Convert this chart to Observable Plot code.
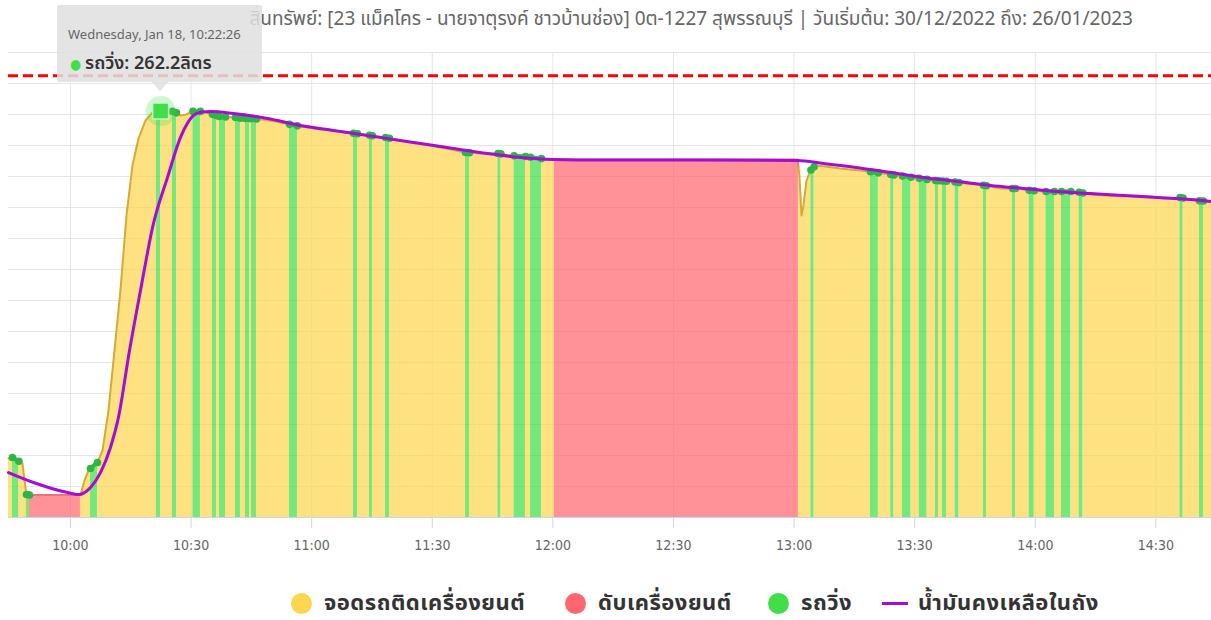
<!DOCTYPE html>
<html><head><meta charset="utf-8">
<script src="https://cdn.jsdelivr.net/npm/d3@7"></script>
<script src="https://cdn.jsdelivr.net/npm/@observablehq/plot@0.6"></script>
<style>
body{margin:0;background:#fff;}
#wrap{position:relative;width:1211px;height:620px;overflow:hidden;font-family:"Noto Sans Thai","Liberation Sans Narrow","DejaVu Sans Condensed","Noto Sans",sans-serif;}
#chart{position:absolute;left:0;top:0;}
.title{position:absolute;right:78px;top:5px;font-size:19px;color:#666;white-space:nowrap;}
.tip{position:absolute;left:57px;top:5px;width:205px;height:77px;background:rgba(224,224,224,0.86);border-radius:2px;}
.tip:after{content:"";position:absolute;left:95px;top:77px;border-left:8px solid transparent;border-right:8px solid transparent;border-top:9px solid rgba(224,224,224,0.86);}
.tip .d{position:absolute;left:11px;top:20px;font-size:13px;color:#666;white-space:nowrap;}
.tip .v{position:absolute;left:13px;top:45px;font-size:18px;font-weight:600;color:#333;white-space:nowrap;}
.tip .v span{color:#40DF48;font-size:14px;margin-right:4px;}
.lg{position:absolute;top:590px;height:26px;display:flex;align-items:center;font-size:22px;letter-spacing:0.5px;font-weight:bold;color:#333;white-space:nowrap;}
.lg i{display:inline-block;width:21px;height:21px;border-radius:50%;margin-right:12px;}
.lg b{display:inline-block;width:26px;height:3px;margin-right:10px;}
</style></head><body><div id="wrap"><div id="chart"></div></div>
<script>
const day = "2023-01-18";
const xStart = "09:44:35", xEnd = "14:43:50";
const tickLabels = ["10:00","10:30","11:00","11:30","12:00","12:30","13:00","13:30","14:00","14:30"];
const gridLiters = [0,20,40,60,80,100,120,140,160,180,200,220,240,260,280,300];
const tankLimit = 285;

// raw fuel reading (litres)
const rawTimes = ["09:44:35","09:45:34","09:47:19","09:48:04","09:48:34","09:49:03","09:49:48","10:02:29","10:03:29","10:04:29","10:05:43","10:06:43","10:07:58","10:09:27","10:10:57","10:12:26","10:13:56","10:15:25","10:16:55","10:18:39","10:20:24","10:22:26","10:24:23","10:25:52","10:27:22","10:28:51","10:30:21","10:32:20","10:34:50","10:37:19","10:40:18","10:42:17","10:44:47","10:47:16","10:51:00","10:54:44","10:57:13","11:02:11","11:07:10","11:10:54","11:14:38","11:18:22","11:22:05","11:27:04","11:32:02","11:35:46","11:38:16","11:41:59","11:46:28","11:49:57","11:53:11","11:56:55","12:00:09","13:00:51","13:01:20","13:01:50","13:02:20","13:03:05","13:04:05","13:05:19","13:07:49","13:11:32","13:16:31","13:20:15","13:23:59","13:27:43","13:31:26","13:35:10","13:38:55","13:42:38","13:47:37","13:51:20","13:55:04","13:58:49","14:02:32","14:06:16","14:10:00","14:13:44","14:17:28","14:21:11","14:24:56","14:28:40","14:32:23","14:36:07","14:39:51","14:43:50"];
const rawLiters = [38.1,38.7,36.1,34.8,23.9,14.8,14.5,14.5,23.9,30.3,33.5,35.5,43.2,69.0,107.7,146.5,194.8,227.1,244.5,256.1,261.3,262.2,262.6,261.9,259.4,260.0,262.0,262.0,260.5,258.5,258.3,257.6,257.4,257.0,255.5,253.5,252.3,250.3,249.0,247.7,246.5,245.2,243.2,241.3,238.7,236.8,235.5,234.8,234.8,233.5,232.9,231.6,231.0,231.0,220.6,194.8,201.3,217.4,223.9,227.1,226.5,225.2,223.9,222.6,221.3,220.0,218.7,217.4,216.8,215.5,214.2,212.3,212.3,211.0,210.3,210.3,210.3,208.4,207.7,207.1,207.7,207.1,205.8,206.5,204.5,203.9];

// smoothed remaining fuel (purple)
const trendTimes = ["09:44:35","09:50:48","09:59:15","10:01:59","10:04:59","10:07:28","10:09:57","10:11:56","10:14:41","10:17:25","10:20:39","10:24:08","10:27:22","10:30:36","10:32:20","10:34:50","10:40:33","10:49:00","10:57:13","11:05:25","11:13:53","11:22:05","11:27:04","11:35:16","11:43:44","11:51:56","12:00:09","12:11:50","12:36:43","13:00:51","13:07:19","13:11:32","13:23:59","13:32:11","13:40:39","13:48:52","13:57:04","14:05:31","14:13:44","14:21:56","14:30:24","14:38:37","14:43:50"];
const trendLiters = [29.0,22.6,16.1,14.8,19.4,29.0,45.2,64.5,107.7,146.5,189.7,219.4,245.2,259.4,261.5,261.9,260.6,257.4,252.9,249.7,246.5,243.2,241.3,238.1,234.8,232.3,231.0,230.6,230.6,230.3,228.4,227.1,222.6,219.4,216.8,214.2,212.3,210.3,209.0,207.7,206.5,205.2,203.9];

// driving periods (green)
const driveStarts = ["09:45:34","09:49:03","10:04:59","10:21:23","10:25:22","10:30:28","10:35:19","10:37:04","10:41:03","10:43:32","10:45:01","10:54:29","11:10:24","11:14:23","11:18:22","11:38:16","11:46:20","11:50:21","11:54:26","13:04:11","13:19:00","13:24:03","13:26:58","13:31:08","13:35:10","13:36:55","13:40:03","13:47:07","13:54:20","13:58:29","14:02:40","14:06:31","14:10:54","14:36:00","14:40:51"];
const driveEnds = ["09:47:10","09:49:48","10:06:43","10:22:26","10:26:22","10:32:20","10:36:19","10:38:34","10:42:17","10:44:32","10:46:16","10:56:28","11:11:24","11:15:07","11:19:21","11:39:15","11:47:05","11:53:11","11:57:10","13:04:59","13:20:58","13:24:51","13:29:06","13:33:05","13:35:55","13:37:55","13:41:01","13:47:52","13:55:04","13:59:45","14:04:47","14:08:52","14:11:52","14:36:46","14:41:50"];
// engine off periods (red)
const offStarts = ["09:49:48","12:00:21"];
const offEnds = ["10:02:29","13:01:05"];

const stateNames = {idle:"จอดรถติดเครื่องยนต์", off:"ดับเครื่องยนต์", drive:"รถวิ่ง"};
const trendName = "น้ำมันคงเหลือในถัง";
const stateColors = {idle:"#FDD54F", off:"#FF6670", drive:"#40DF48"};
const lineColors = {idle:"#D9A935", off:"#EC7479", drive:"#2FB446"};
const trendColor = "#A40DD6";
const titleText = "สินทรัพย์: [23 แม็คโคร - นายจาตุรงค์ ชาวบ้านช่อง] 0ต-1227 สุพรรณบุรี | วันเริ่มต้น: 30/12/2022 ถึง: 26/01/2023";
const tipDate = "Wednesday, Jan 18, 10:22:26";
const tipTime = "10:22:26", tipLiters = 262.2, tipUnit = "ลิตร";

const T = s => new Date(`${day}T${s}`);
const raw = rawTimes.map((t,i)=>({t:T(t), v:rawLiters[i]}));
const trend = trendTimes.map((t,i)=>({t:T(t), v:trendLiters[i]}));
function interp(t){
  for(let i=0;i<raw.length-1;i++){
    const a=raw[i], b=raw[i+1];
    if(t>=a.t && t<=b.t){ const f=(b.t-a.t)?(t-a.t)/(b.t-a.t):0; return a.v+f*(b.v-a.v); }
  }
  return t<raw[0].t?raw[0].v:raw[raw.length-1].v;
}
const intervals=[];
driveStarts.forEach((s,i)=>intervals.push({s:T(s),e:T(driveEnds[i]),state:"drive"}));
offStarts.forEach((s,i)=>intervals.push({s:T(s),e:T(offEnds[i]),state:"off"}));
intervals.sort((a,b)=>a.s-b.s);
const segs=[]; let cur=T(xStart);
for(const iv of intervals){ if(iv.s>cur) segs.push({s:cur,e:iv.s,state:"idle"}); segs.push(iv); cur=iv.e; }
if(cur<T(xEnd)) segs.push({s:cur,e:T(xEnd),state:"idle"});
const area=[];
segs.forEach((g,k)=>{
  area.push({t:g.s,v:interp(g.s),seg:k,state:g.state});
  raw.forEach(p=>{ if(p.t>g.s && p.t<g.e) area.push({t:p.t,v:p.v,seg:k,state:g.state}); });
  area.push({t:g.e,v:interp(g.e),seg:k,state:g.state});
});
const driveDots = segs.filter(g=>g.state==="drive").flatMap(g=>[{t:g.s,v:interp(g.s)},{t:g.e,v:interp(g.e)}]);
const ticks = tickLabels.map(T);
const fmt = d3.timeFormat("%H:%M");

const chart = Plot.plot({
  width:1211, height:560,
  marginLeft:8, marginRight:0, marginTop:52, marginBottom:43,
  style:{fontFamily:"'Liberation Sans Narrow','DejaVu Sans Condensed',sans-serif", background:"transparent"},
  x:{type:"time", domain:[T(xStart),T(xEnd)], axis:null},
  y:{domain:[0,300], axis:null},
  color:{type:"identity"},
  marks:[
    Plot.gridY(gridLiters,{stroke:"#e6e6e6", strokeOpacity:1}),
    Plot.gridX(ticks,{stroke:"#e6e6e6", strokeOpacity:1}),
    Plot.areaY(area,{x:"t", y1:0, y2:"v", z:"seg", fill:d=>stateColors[d.state], fillOpacity:0.72}),
    Plot.line(area.filter(d=>d.state!=="drive"),{x:"t", y:"v", z:"seg", stroke:d=>lineColors[d.state], strokeWidth:2}),
    Plot.line(area.filter(d=>d.state==="drive"),{x:"t", y:"v", z:"seg", stroke:lineColors.drive, strokeWidth:4, strokeLinecap:"round"}),
    Plot.dot(driveDots,{x:"t", y:"v", r:3.8, fill:lineColors.drive}),
    Plot.ruleY([0],{stroke:"#ccd6eb", strokeWidth:1}),
    Plot.ruleY([tankLimit],{stroke:"#FF0000", strokeWidth:3, strokeDasharray:"10,5"}),
    Plot.line(trend,{x:"t", y:"v", curve:"monotone-x", stroke:trendColor, strokeWidth:3}),
    Plot.dot([{t:T(tipTime), v:tipLiters}],{x:"t", y:"v", r:15, fill:stateColors.drive, fillOpacity:0.25}),
    Plot.dot([{t:T(tipTime), v:tipLiters}],{x:"t", y:"v", r:9, symbol:"square", fill:stateColors.drive, stroke:"#c8f5cb", strokeWidth:1.5}),
    Plot.axisX(ticks,{tickSize:11, stroke:"#ccd6eb", tickFormat:()=>"", fill:"none", label:null}),
    Plot.axisX(ticks,{tickSize:0, tickPadding:23, tickFormat:fmt, fill:"#666", fontSize:14, label:null})
  ]
});
const wrap=document.getElementById("wrap");
document.getElementById("chart").appendChild(chart);

const title=document.createElement("div"); title.className="title"; title.textContent=titleText; wrap.appendChild(title);
const tip=document.createElement("div"); tip.className="tip";
tip.innerHTML=`<div class="d"></div><div class="v"><span>●</span><em></em></div>`;
tip.querySelector(".d").textContent=tipDate;
tip.querySelector("em").textContent=`${stateNames.drive}: ${tipLiters}${tipUnit}`;
tip.querySelector("em").style.fontStyle="normal";
wrap.appendChild(tip);

const legend=[{k:"idle",left:291},{k:"off",left:565},{k:"drive",left:768},{k:"trend",left:882}];
legend.forEach(l=>{
  const d=document.createElement("div"); d.className="lg"; d.style.left=l.left+"px";
  if(l.k==="trend"){ d.innerHTML=`<b style="background:${trendColor}"></b><span></span>`; d.querySelector("span").textContent=trendName; }
  else { d.innerHTML=`<i style="background:${stateColors[l.k]}"></i><span></span>`; d.querySelector("span").textContent=stateNames[l.k]; }
  wrap.appendChild(d);
});
</script></body></html>
